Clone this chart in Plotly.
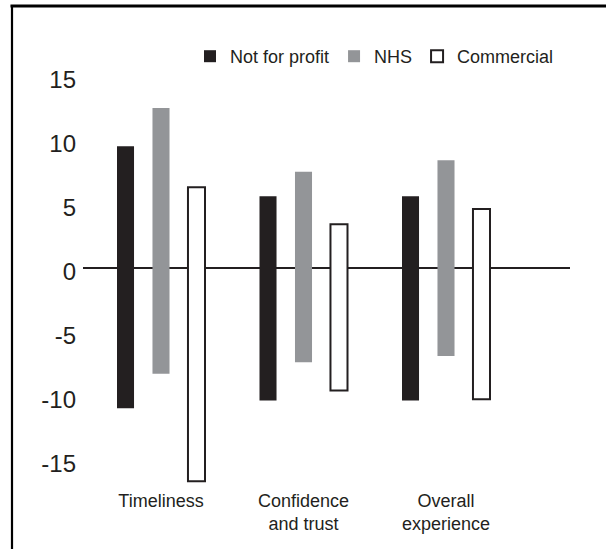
import plotly.graph_objects as go

# ---- data ----
categories = ["Timeliness", "Confidence<br>and trust", "Overall<br>experience"]
series_names = ["Not for profit", "NHS", "Commercial"]
nfp_high = [9.5, 5.6, 5.6]
nfp_low = [-11.0, -10.4, -10.4]
nhs_high = [12.5, 7.5, 8.4]
nhs_low = [-8.3, -7.4, -6.9]
com_high = [6.3, 3.4, 4.6]
com_low = [-16.7, -9.6, -10.3]
tick_vals = [15, 10, 5, 0, -5, -10, -15]
tick_text = ["15", "10", "5", "0", "-5", "-10", "-15"]

# ---- layout constants ----
W, H = 606, 549
ML, MR, MT, MB = 83, 36, 60, 61
INK = "#231f20"
GRAY = "#939598"
FONT = "Liberation Sans, Arial, sans-serif"

fig = go.Figure()
styles = [
    dict(color=INK, line=dict(color=INK, width=0)),
    dict(color=GRAY, line=dict(color=GRAY, width=0)),
    dict(color="white", line=dict(color=INK, width=2)),
]
for name, hi, lo, st in zip(series_names, [nfp_high, nhs_high, com_high],
                            [nfp_low, nhs_low, com_low], styles):
    fig.add_trace(go.Bar(
        x=categories,
        y=[h - l for h, l in zip(hi, lo)],
        base=lo,
        name=name,
        marker=st,
    ))

pw = W - ML - MR
ph = H - MT - MB
def px_x(p):
    return (p - ML) / pw
def px_y(p):
    return (H - MB - p) / ph

# frame of the original figure box (top and left edges)
fig.add_shape(type="line", xref="paper", yref="paper", layer="above",
              x0=px_x(10.5), x1=px_x(W), y0=px_y(6), y1=px_y(6),
              line=dict(color="black", width=3))
fig.add_shape(type="line", xref="paper", yref="paper", layer="above",
              x0=px_x(12), x1=px_x(12), y0=px_y(5), y1=px_y(H + 5),
              line=dict(color="black", width=2.2))

zero_px = 267.7
scale = 12.78
fig.update_layout(
    width=W, height=H,
    margin=dict(l=ML, r=MR, t=MT, b=MB),
    paper_bgcolor="white", plot_bgcolor="white",
    font=dict(family=FONT, color=INK, size=18),
    barmode="group",
    bargap=0.253,
    bargroupgap=0.52,
    showlegend=True,
    legend=dict(orientation="h", x=px_x(190), y=px_y(38),
                xanchor="left", yanchor="top",
                font=dict(size=18, color=INK), bgcolor="rgba(0,0,0,0)"),
    xaxis=dict(range=[(83 - 161) / 142.5, (570 - 161) / 142.5],
               showgrid=False, showline=False, zeroline=False, ticks="",
               tickfont=dict(size=18, color=INK)),
    yaxis=dict(range=[-(H - MB - zero_px) / scale, (zero_px - MT) / scale],
               tickvals=tick_vals, ticktext=tick_text,
               showgrid=False, showline=False, ticks="",
               zeroline=True, zerolinecolor=INK, zerolinewidth=2,
               tickfont=dict(size=24, color=INK),
               ticklabelshift=4, ticklabelstandoff=6),
)

fig.write_html(
    "out.html",
    config={"displayModeBar": False},
    post_script="document.body.style.margin='0';document.body.style.overflow='hidden';",
)
